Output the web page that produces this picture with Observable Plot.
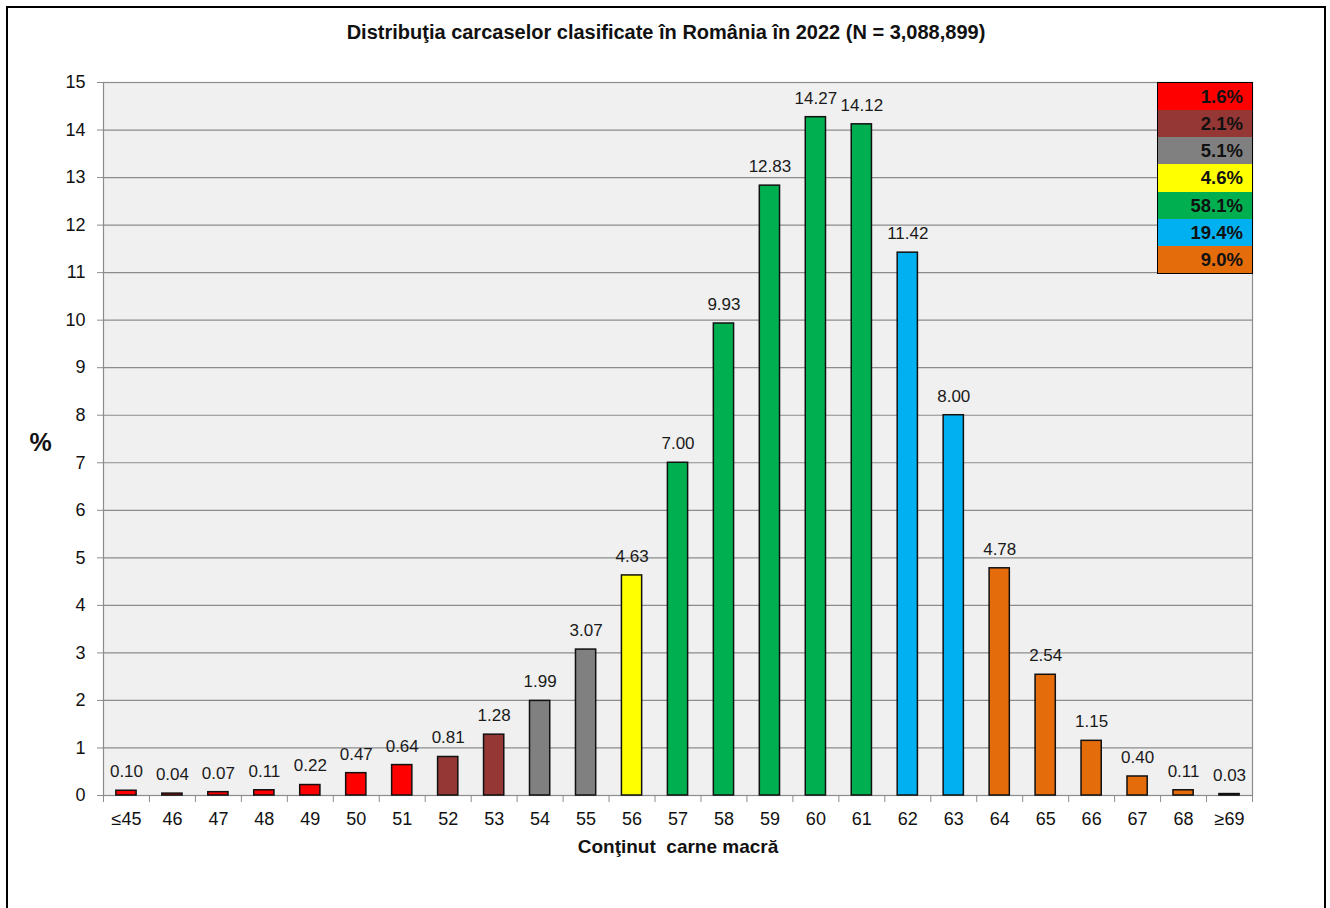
<!DOCTYPE html>
<html>
<head>
<meta charset="utf-8">
<script src="https://cdn.jsdelivr.net/npm/d3@7"></script>
<script src="https://cdn.jsdelivr.net/npm/@observablehq/plot@0.6"></script>
<style>
  html, body { margin: 0; padding: 0; background: #fff; }
  body { width: 1330px; height: 908px; position: relative; overflow: hidden; font-family: "Liberation Sans", Arial, sans-serif; }
  #border { position: absolute; left: 6px; top: 6px; width: 1320px; height: 960px; border: 2px solid #000; box-sizing: border-box; }
  #title { position: absolute; left: 0; top: 0; width: 1332px; height: 56px; box-sizing: border-box; padding-top: 20px; line-height: 24px; text-align: center; font-weight: bold; font-size: 20px; color: #111; }
  #chart { position: absolute; left: 0; top: 56px; }
  #legend { position: absolute; left: 1157px; top: 82px; width: 96px; height: 192px; border: 1.5px solid #000; box-sizing: border-box; display: flex; flex-direction: column; }
  #legend div { flex: 1; text-align: right; padding-right: 9px; font-weight: bold; font-size: 18.5px; line-height: 27px; color: #111; }
</style>
</head>
<body>
<div id="border"></div>
<div id="title"></div>
<div id="chart"></div>
<div id="legend"></div>
<script>
const categories = ["≤45","46","47","48","49","50","51","52","53","54","55","56","57","58","59","60","61","62","63","64","65","66","67","68","≥69"];
const values = [0.10,0.04,0.07,0.11,0.22,0.47,0.64,0.81,1.28,1.99,3.07,4.63,7.00,9.93,12.83,14.27,14.12,11.42,8.00,4.78,2.54,1.15,0.40,0.11,0.03];
const groupOf = ["≤51","≤51","≤51","≤51","≤51","≤51","≤51","52–53","52–53","54–55","54–55","56","57–61","57–61","57–61","57–61","57–61","62–63","62–63","≥64","≥64","≥64","≥64","≥64","≥64"];
const groupNames = ["≤51","52–53","54–55","56","57–61","62–63","≥64"];
const groupPercents = [1.6, 2.1, 5.1, 4.6, 58.1, 19.4, 9.0];
const yTicks = [0,1,2,3,4,5,6,7,8,9,10,11,12,13,14,15];
const title = "Distribuţia carcaselor clasificate în România în 2022 (N = 3,088,899)";
const xLabel = "Conţinut\u00a0 carne macră";
const yLabel = "%";

const groupColors = ["#ff0000","#953735","#808080","#ffff00","#00b050","#00b0f0","#e46c0a"];

const data = categories.map((c, i) => ({cat: c, value: values[i], group: groupOf[i]}));

const W = 1330, H = 852, mL = 103, mR = 78, mT = 26, mB = 113;
const step = (W - mL - mR) / categories.length;

const chart = Plot.plot({
  width: W, height: H,
  marginLeft: mL, marginRight: mR, marginTop: mT, marginBottom: mB,
  style: {fontFamily: "'Liberation Sans', Arial, sans-serif", fontSize: "18px", color: "#111", background: "transparent", overflow: "visible"},
  x: {domain: categories, paddingInner: 0.56, paddingOuter: 0.28, round: false, label: null},
  y: {domain: [0, 15], label: null},
  color: {domain: groupNames, range: groupColors},
  marks: [
    Plot.frame({fill: "#f0f0f0", stroke: null}),
    Plot.gridY(yTicks, {stroke: "#8c8c8c", strokeOpacity: 1, strokeWidth: 1.2}),
    Plot.frame({stroke: "#8c8c8c", strokeWidth: 1.2}),
    Plot.barY(data, {x: "cat", y: "value", fill: "group", stroke: "#111", strokeWidth: 1.5}),
    Plot.text(data, {x: "cat", y: "value", text: d => d.value.toFixed(2), dy: -19, fontSize: 17, fill: "#1a1a1a"}),
    Plot.axisY(yTicks, {tickSize: 6, tickPadding: 12, stroke: "#8c8c8c", fill: "#111", fontSize: 18, label: null}),
    Plot.axisX({tickSize: 0, tickPadding: 17, fill: "#111", fontSize: 18, label: null}),
    Plot.axisX({tickSize: 7, tickFormat: () => "", dx: -step / 2, stroke: "#8c8c8c", label: null}),
    Plot.axisX([categories[categories.length - 1]], {tickSize: 7, tickFormat: () => "", dx: step / 2, stroke: "#8c8c8c", label: null}),
    Plot.text([yLabel], {frameAnchor: "left", textAnchor: "middle", dx: -63, dy: 4, fontSize: 25, fontWeight: "bold", fill: "#111"}),
    Plot.text([xLabel], {frameAnchor: "bottom", textAnchor: "middle", dy: 57, fontSize: 19, fontWeight: "bold", fill: "#111"})
  ]
});
document.getElementById("chart").appendChild(chart);
document.getElementById("title").textContent = title;

const legend = document.getElementById("legend");
groupNames.forEach((g, i) => {
  const row = document.createElement("div");
  row.style.background = groupColors[i];
  row.textContent = groupPercents[i].toFixed(1) + "%";
  legend.appendChild(row);
});
</script>
</body>
</html>
